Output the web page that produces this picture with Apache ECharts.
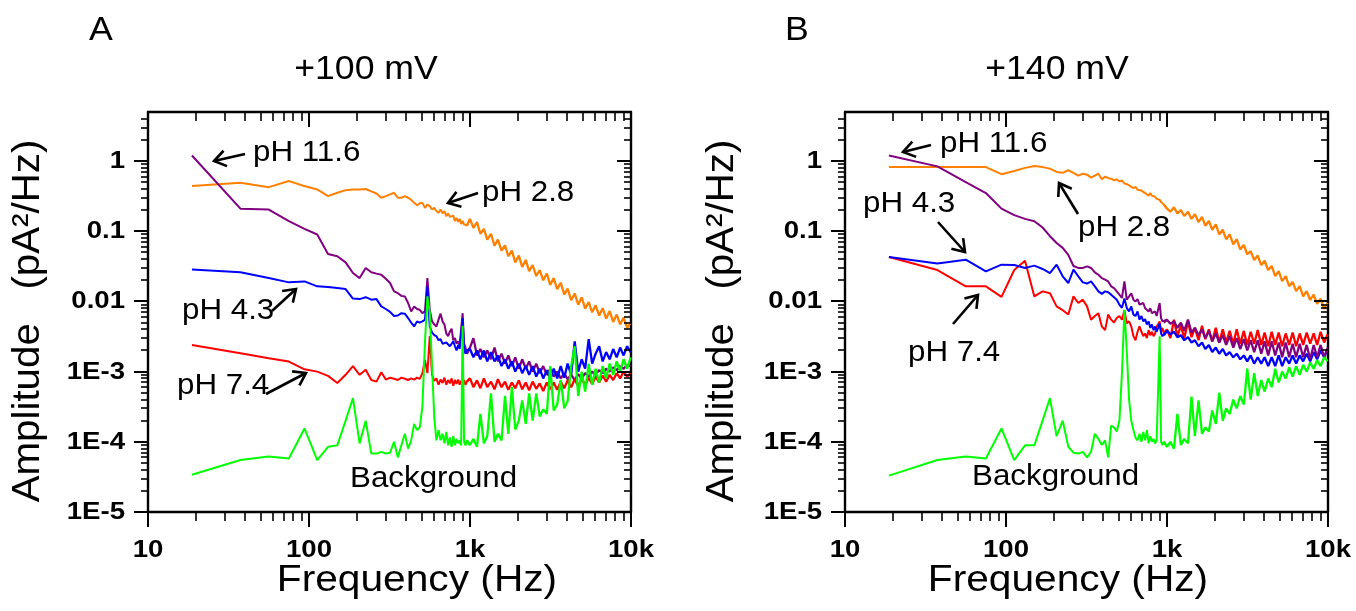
<!DOCTYPE html>
<html><head><meta charset="utf-8">
<script src="https://cdn.jsdelivr.net/npm/echarts@6/dist/echarts.min.js"></script>
<style>html,body{margin:0;padding:0;background:#fff}#c{width:1356px;height:611px}</style>
</head><body><div id="c"></div>
<script>
// ---------- data ----------
const freqHz = [
  18.75,37.5,56.25,75,93.75,112.5,131.25,150,168.75,187.5,206.25,225,243.75,262.5,281.25,300,318.75,337.5,356.25,375,
  393.75,412.5,431.25,450,468.75,487.5,506.25,525,543.75,562.5,581.25,600,618.75,637.5,656.25,675,693.75,712.5,731.25,750,
  768.75,787.5,806.25,825,843.75,862.5,881.25,900,918.75,937.5,956.25,
  1000,1050,1105,1160,1220,1280,1350,1420,1490,1570,1650,1730,1820,1910,2010,2110,2220,2330,2450,2580,
  2710,2850,3000,3150,3310,3480,3660,3850,4040,4250,4470,4700,4940,5190,5460,5740,6030,6340,6670,7010,
  7370,7750,8150,8560,9000,9460,9950];

const xTickValues = [10, 100, 1000, 10000];
const xTickLabels = ['10', '100', '1k', '10k'];
const yTickValues = [1e-5, 1e-4, 1e-3, 0.01, 0.1, 1];
const yTickLabels = ['1E-5', '1E-4', '1E-3', '0.01', '0.1', '1'];
const xMinorTicks = [20,30,40,50,60,70,80,90,200,300,400,500,600,700,800,900,2000,3000,4000,5000,6000,7000,8000,9000];
const yMinorTicks = [2e-5,3e-5,4e-5,5e-5,6e-5,7e-5,8e-5,9e-5,2e-4,3e-4,4e-4,5e-4,6e-4,7e-4,8e-4,9e-4,
  2e-3,3e-3,4e-3,5e-3,6e-3,7e-3,8e-3,9e-3,0.02,0.03,0.04,0.05,0.06,0.07,0.08,0.09,0.2,0.3,0.4,0.5,0.6,0.7,0.8,0.9,2,3,4];

const panelLetters = ['A', 'B'];
const panelTitles = ['+100 mV', '+140 mV'];
const xAxisTitle = 'Frequency (Hz)';
const yAxisTitle = 'Amplitude   (pA²/Hz)';
const seriesNames = ['pH 2.8', 'pH 11.6', 'pH 4.3', 'pH 7.4', 'Background'];

// Panel A (+100 mV)
const pH28_A = [0.44,0.49,0.425,0.52,0.44,0.394,0.316,0.353,0.385,0.394,0.394,0.40,0.37,0.345,0.30,0.316,0.335,0.353,0.30,0.30,
  0.316,0.30,0.28,0.254,0.235,0.25,0.254,0.215,0.24,0.228,0.204,0.215,0.194,0.183,0.204,0.18,0.194,0.164,0.18,0.16,
  0.15,0.167,0.14,0.155,0.137,0.15,0.127,0.14,0.125,0.131,0.12,
  0.15,0.112,0.135,0.092,0.108,0.076,0.092,0.062,0.076,0.053,0.063,0.044,0.053,0.036,0.045,0.031,0.039,0.027,0.033,0.023,
  0.028,0.020,0.025,0.0172,0.0215,0.0150,0.0185,0.0125,0.0152,0.0104,0.0130,0.0090,0.0114,0.0079,0.0098,0.0070,0.0088,0.0063,0.0080,0.0057,
  0.0073,0.0051,0.0065,0.0047,0.0059,0.0042,0.0050];
const pH116_A = [1.2,0.21,0.204,0.139,0.108,0.090,0.0475,0.044,0.036,0.0254,0.0215,0.030,0.026,0.0249,0.024,0.021,0.0183,0.0139,0.0131,0.012,
  0.0118,0.0095,0.0072,0.0085,0.0078,0.0076,0.0068,0.0072,0.0215,0.0076,0.0052,0.0047,0.0044,0.0055,0.0067,0.0052,0.0047,0.0035,0.0032,0.0037,
  0.0041,0.0028,0.0030,0.0025,0.0027,0.0024,0.0025,0.0068,0.0025,0.0022,0.0018,
  0.0022,0.0030,0.0017,0.0021,0.0016,0.0020,0.0015,0.0022,0.0014,0.0018,0.0013,0.0017,0.0012,0.0016,0.0011,0.0015,0.0011,0.0014,0.0010,0.0013,
  0.00095,0.0012,0.0009,0.0011,0.00085,0.0010,0.0008,0.00095,0.00078,0.0009,0.00076,0.00092,0.0008,0.00095,0.00085,0.001,0.0009,0.00105,0.00095,0.0011,
  0.001,0.00115,0.00105,0.0012,0.0011,0.00125,0.0012];
const pH43_A = [0.0284,0.026,0.0215,0.0187,0.0193,0.0164,0.016,0.0155,0.015,0.011,0.0108,0.0115,0.0106,0.0108,0.0085,0.0078,0.0071,0.0062,0.0063,0.0068,
  0.0067,0.0058,0.0050,0.0044,0.0052,0.0050,0.0052,0.0055,0.0164,0.0044,0.0036,0.0033,0.0032,0.0028,0.0029,0.0025,0.0024,0.0026,0.0025,0.0023,
  0.0022,0.0027,0.0023,0.0020,0.0024,0.0021,0.0022,0.0058,0.0021,0.0018,0.0020,
  0.0021,0.0016,0.0020,0.0015,0.0020,0.0014,0.0019,0.0014,0.0017,0.0012,0.0015,0.0011,0.0014,0.0010,0.0013,0.00095,0.0012,0.0009,0.0012,0.00085,
  0.0011,0.0008,0.00105,0.00078,0.0011,0.0008,0.0012,0.00082,0.0013,0.0009,0.0027,0.001,0.0015,0.0011,0.0029,0.0013,0.0018,0.0023,0.0014,0.0019,
  0.0015,0.0021,0.0016,0.0022,0.0017,0.0023,0.0019];
const pH74_A = [0.0024,0.00183,0.00155,0.00139,0.00108,0.0010,0.00087,0.00069,0.0009,0.0012,0.0009,0.00106,0.00076,0.00072,0.00098,0.00077,0.00082,0.00079,0.00076,0.00082,
  0.00079,0.00076,0.0008,0.00077,0.00082,0.00079,0.00095,0.00147,0.00095,0.0032,0.0009,0.00074,0.0008,0.00065,0.00077,0.00069,0.00082,0.00065,0.00076,0.00068,
  0.0008,0.00063,0.00076,0.00067,0.00077,0.00065,0.00074,0.00068,0.00076,0.00065,0.00072,
  0.0008,0.0006,0.00075,0.00058,0.0008,0.0006,0.00072,0.00056,0.00078,0.0006,0.00072,0.00055,0.0007,0.00058,0.00075,0.00056,0.0007,0.00054,0.00072,0.00057,
  0.00068,0.00053,0.0007,0.00056,0.0007,0.00055,0.00072,0.00058,0.00075,0.0006,0.00078,0.00062,0.0008,0.00064,0.00082,0.00066,0.00085,0.0007,0.00088,0.00072,
  0.0009,0.00076,0.00095,0.0008,0.001,0.00085,0.00095];
const bg_A = [3.4e-5,5.5e-5,6.2e-5,5.8e-5,1.55e-4,5.5e-5,8.5e-5,8.9e-5,2.0e-4,4.2e-4,9.5e-5,2.0e-4,6.8e-5,6.8e-5,7.2e-5,6.8e-5,7.0e-5,1.0e-4,6.0e-5,9.0e-5,
  1.3e-4,8.0e-5,1.05e-4,1.8e-4,1.47e-4,1.6e-4,3.2e-4,2.6e-3,1.18e-2,7.0e-3,1.2e-3,2.2e-4,1.05e-4,1.47e-4,1.05e-4,1.3e-4,9.5e-5,1.38e-4,8.9e-5,1.15e-4,
  8.5e-5,1.2e-4,8.9e-5,1.1e-4,9.5e-5,1.05e-4,8.9e-5,4.5e-3,1.0e-4,8.9e-5,1.05e-4,
  9.0e-5,1.1e-4,8.5e-5,2.5e-4,9.5e-5,1.2e-4,4.9e-4,1.0e-4,1.3e-4,1.05e-4,4.5e-4,1.3e-4,6.0e-4,1.5e-4,2.0e-4,3.9e-4,1.8e-4,4.9e-4,2.0e-4,4.9e-4,
  2.3e-4,2.9e-4,2.5e-4,1.2e-3,2.8e-4,3.4e-4,7.6e-4,3.0e-4,3.8e-4,1.2e-3,2.3e-3,4.5e-4,1.0e-3,5.2e-4,1.3e-3,6.5e-4,1.1e-3,7.0e-4,1.2e-3,8.0e-4,
  1.3e-3,9.0e-4,1.4e-3,1.0e-3,1.5e-3,1.1e-3,1.6e-3];

// Panel B (+140 mV)
const pH28_B = [0.82,0.82,0.82,0.82,0.65,0.72,0.80,0.85,0.82,0.78,0.70,0.68,0.74,0.68,0.62,0.66,0.64,0.58,0.62,0.66,
  0.55,0.60,0.57,0.56,0.53,0.55,0.51,0.53,0.48,0.47,0.45,0.43,0.41,0.43,0.39,0.41,0.38,0.36,0.35,0.34,
  0.32,0.35,0.32,0.31,0.31,0.29,0.28,0.28,0.26,0.25,0.24,
  0.21,0.19,0.22,0.18,0.20,0.165,0.19,0.15,0.175,0.135,0.16,0.12,0.14,0.105,0.125,0.09,0.105,0.077,0.09,0.065,
  0.077,0.055,0.064,0.047,0.052,0.039,0.045,0.033,0.038,0.028,0.032,0.023,0.027,0.0195,0.023,0.0165,0.019,0.014,0.0165,0.0118,
  0.014,0.0105,0.0125,0.0092,0.011,0.0078,0.0095];
const pH116_B = [1.2,0.84,0.50,0.35,0.21,0.17,0.15,0.139,0.113,0.085,0.068,0.058,0.046,0.032,0.030,0.030,0.0316,0.030,0.026,0.024,
  0.0215,0.0204,0.0193,0.0164,0.0155,0.0139,0.0125,0.0112,0.0193,0.0106,0.0118,0.0131,0.0106,0.010,0.0108,0.009,0.0085,0.0095,0.008,0.0076,
  0.0072,0.008,0.0068,0.0065,0.0072,0.0062,0.0065,0.0095,0.0058,0.0052,0.0050,
  0.0055,0.0048,0.0052,0.0042,0.0050,0.0038,0.0055,0.0036,0.0042,0.0033,0.0040,0.0030,0.0038,0.0027,0.0035,0.0026,0.0033,0.0024,0.0032,0.0022,
  0.0030,0.0021,0.0029,0.0020,0.0028,0.0019,0.0028,0.0018,0.0027,0.0017,0.0027,0.0017,0.0026,0.0016,0.0026,0.0016,0.0025,0.0016,0.0025,0.0016,
  0.0024,0.0015,0.0024,0.0016,0.0024,0.0016,0.0022];
const pH43_B = [0.043,0.0346,0.0394,0.0268,0.0334,0.033,0.030,0.0324,0.029,0.0254,0.0334,0.0228,0.0183,0.0284,0.0228,0.0187,0.018,0.0193,0.0164,0.0139,
  0.0128,0.0139,0.0135,0.0125,0.0115,0.0106,0.0090,0.0081,0.011,0.0081,0.0072,0.0085,0.0065,0.0062,0.0072,0.0055,0.0062,0.0052,0.0056,0.0047,
  0.0052,0.0042,0.0047,0.0039,0.0044,0.0037,0.0042,0.0049,0.0035,0.0032,0.0033,
  0.0038,0.0034,0.0037,0.0031,0.0033,0.0028,0.0031,0.0026,0.0028,0.0023,0.0026,0.0021,0.0024,0.0019,0.0022,0.0018,0.0021,0.0017,0.0019,0.0016,
  0.0018,0.0015,0.0017,0.0014,0.0017,0.0013,0.0016,0.0013,0.0016,0.0012,0.0016,0.0012,0.0017,0.0012,0.0016,0.0013,0.0017,0.0013,0.0017,0.0014,
  0.0018,0.0014,0.0019,0.0015,0.0020,0.0016,0.0021];
const pH74_B = [0.043,0.028,0.0164,0.0164,0.0116,0.028,0.038,0.0118,0.0139,0.0131,0.0085,0.0075,0.0065,0.0118,0.0095,0.0106,0.0085,0.0055,0.0062,0.0068,
  0.0044,0.0039,0.0065,0.0055,0.005,0.0058,0.0062,0.0055,0.0075,0.0049,0.0052,0.0044,0.0032,0.0028,0.0037,0.0044,0.0037,0.0032,0.0035,0.003,
  0.0039,0.0033,0.0037,0.0032,0.0035,0.0044,0.0047,0.0052,0.0037,0.0042,0.0035,
  0.0040,0.0030,0.0055,0.0032,0.0045,0.0030,0.0052,0.0031,0.0042,0.0028,0.0045,0.0029,0.0040,0.0027,0.0042,0.0026,0.0040,0.0026,0.0038,0.0025,
  0.0040,0.0025,0.0038,0.0024,0.0037,0.0025,0.0039,0.0024,0.0036,0.0023,0.0037,0.0024,0.0036,0.0023,0.0035,0.0024,0.0036,0.0023,0.0035,0.0024,
  0.0036,0.0025,0.0035,0.0024,0.0037,0.0026,0.0034];
const bg_B = [3.3e-5,5.5e-5,6.2e-5,5.8e-5,1.55e-4,5.5e-5,8.9e-5,8.9e-5,2.0e-4,4.2e-4,1.2e-4,2.0e-4,8.5e-5,7.0e-5,6.8e-5,7.2e-5,6.0e-5,7.2e-5,1.3e-4,1.1e-4,
  9.0e-5,1.05e-4,6.0e-5,1.7e-4,1.6e-4,1.4e-4,2.0e-4,9.5e-4,7.6e-3,2.0e-3,4.0e-4,2.0e-4,1.47e-4,1.15e-4,1.05e-4,1.3e-4,1.0e-4,1.38e-4,1.05e-4,1.47e-4,
  9.5e-5,1.2e-4,1.0e-4,1.1e-4,9.5e-5,1.05e-4,1.0e-4,3.2e-3,1.0e-4,9.0e-5,1.0e-4,
  8.5e-5,1.0e-4,8.0e-5,2.5e-4,9.0e-5,1.1e-4,9.5e-5,4.4e-4,1.2e-4,3.9e-4,1.3e-4,1.6e-4,1.4e-4,2.8e-4,1.8e-4,5.0e-4,2.0e-4,3.0e-4,2.5e-4,4.0e-4,
  3.0e-4,4.5e-4,3.4e-4,1.1e-3,4.0e-4,9.5e-4,4.5e-4,7.6e-4,5.2e-4,8.0e-4,6.0e-4,1.1e-3,7.0e-4,1.0e-3,8.0e-4,1.15e-3,8.5e-4,1.2e-3,9.0e-4,1.25e-3,
  1.0e-3,1.35e-3,1.1e-3,1.45e-3,1.2e-3,1.6e-3,1.4e-3];

// ---------- chart ----------
const COLORS = {o:'#FF8000', p:'#800080', b:'#0000FF', r:'#FF0000', g:'#00FF00'};
const FONT = '"Liberation Sans", Arial, sans-serif';
const SPLIT = 50; // index where the dense (noisy) high-frequency part begins

function pairs(vals) { return freqHz.map((f, i) => [f, vals[i]]); }

// tick items: [x, y, kind, labelIndex] kind 0=x minor,1=y minor,2=x major,3=y major
const tickData = []
  .concat(xMinorTicks.map(v => [v, 1, 0, -1]))
  .concat(yMinorTicks.map(v => [10, v, 1, -1]))
  .concat(xTickValues.map((v, i) => [v, 1, 2, i]))
  .concat(yTickValues.map((v, i) => [10, v, 3, i]));

const TICK_FONT = 'bold 23px ' + FONT;
const TICK_STRETCH = 1.2;

function renderTicks(params, api) {
  const cs = params.coordSys;
  const kind = api.value(2);
  const li = api.value(3);
  const major = kind >= 2;
  const st = {stroke: '#000', lineWidth: major ? 2 : 1.6};
  const children = [];
  if (kind === 0 || kind === 2) {
    const len = major ? 15 : 9;
    const px = Math.round(api.coord([api.value(0), 1])[0]);
    const yb = cs.y + cs.height, yt = cs.y;
    children.push({type: 'line', shape: {x1: px, y1: yb, x2: px, y2: yb + len}, style: st});
    children.push({type: 'line', shape: {x1: px, y1: yt, x2: px, y2: yt + len}, style: st});
    if (major) {
      children.push({type: 'text', x: px, y: yb + 39, scaleX: TICK_STRETCH,
        style: {text: xTickLabels[li], font: TICK_FONT, fill: '#000', align: 'center', verticalAlign: 'middle'}});
    }
  } else {
    const len = major ? 14 : 7;
    const py = Math.round(api.coord([10, api.value(1)])[1]);
    const xl = cs.x, xr = cs.x + cs.width;
    children.push({type: 'line', shape: {x1: xl - len, y1: py, x2: xl + 1, y2: py}, style: st});
    children.push({type: 'line', shape: {x1: xr - len, y1: py, x2: xr + 1, y2: py}, style: st});
    if (major) {
      children.push({type: 'text', x: xl - 23, y: py + 1, scaleX: TICK_STRETCH,
        style: {text: yTickLabels[li], font: TICK_FONT, fill: '#000', align: 'right', verticalAlign: 'middle'}});
    }
  }
  return {type: 'group', children: children};
}

const axisLineStyle = {show: true, onZero: false, lineStyle: {color: '#000', width: 2.4}};

const xAxes = [], yAxes = [], series = [];
[0, 1].forEach(g => {
  ['bottom', 'top'].forEach(pos => xAxes.push({type: 'log', logBase: 10, gridIndex: g, min: 10, max: 10000, position: pos,
    axisLine: axisLineStyle, axisTick: {show: false}, splitLine: {show: false}, axisLabel: {show: false}}));
  ['left', 'right'].forEach(pos => yAxes.push({type: 'log', logBase: 10, gridIndex: g, min: 1e-5, max: 5, position: pos,
    axisLine: axisLineStyle, axisTick: {show: false}, splitLine: {show: false}, axisLabel: {show: false}}));
});

// each curve: low-frequency part (width 2) and dense noisy high-frequency part (a bit heavier)
function addCurve(g, name, vals, color) {
  const all = pairs(vals);
  [[all.slice(0, SPLIT + 2), 2], [all.slice(SPLIT), 2.3]].forEach(([d, w]) => {
    series.push({type: 'line', name: name, xAxisIndex: g * 2, yAxisIndex: g * 2, data: d,
      symbol: 'none', showSymbol: false, lineStyle: {color: color, width: w}, itemStyle: {color: color},
      animation: false, silent: true, clip: true});
  });
}
// Panel A draw order
addCurve(0, seriesNames[0], pH28_A, COLORS.o);
addCurve(0, seriesNames[1], pH116_A, COLORS.p);
addCurve(0, seriesNames[3], pH74_A, COLORS.r);
addCurve(0, seriesNames[2], pH43_A, COLORS.b);
addCurve(0, seriesNames[4], bg_A, COLORS.g);
// Panel B draw order
addCurve(1, seriesNames[0], pH28_B, COLORS.o);
addCurve(1, seriesNames[3], pH74_B, COLORS.r);
addCurve(1, seriesNames[2], pH43_B, COLORS.b);
addCurve(1, seriesNames[1], pH116_B, COLORS.p);
addCurve(1, seriesNames[4], bg_B, COLORS.g);
[0, 1].forEach(g => {
  series.push({type: 'custom', xAxisIndex: g * 2, yAxisIndex: g * 2, data: tickData,
    dimensions: ['x', 'y', 'kind', 'label'], encode: {x: 0, y: 1}, renderItem: renderTicks,
    clip: false, silent: true, animation: false, z: 10});
});

// ---------- annotations ----------
function txt(x, y, s, size, align, sx, rot) {
  return {type: 'text', x: x, y: y, rotation: rot || 0, scaleX: sx || 1, silent: true, z: 20,
    style: {text: s, font: size + 'px ' + FONT, fill: '#000',
      textAlign: align || 'left', textVerticalAlign: 'middle', align: align || 'left', verticalAlign: 'middle'}};
}
function arrow(x1, y1, x2, y2) {
  const a = Math.atan2(y2 - y1, x2 - x1), L = 14, s = 0.6;
  const h1 = [x2 - L * Math.cos(a - s), y2 - L * Math.sin(a - s)];
  const h2 = [x2 - L * Math.cos(a + s), y2 - L * Math.sin(a + s)];
  const st = {stroke: '#000', lineWidth: 2.6, fill: null};
  return [
    {type: 'line', shape: {x1: x1, y1: y1, x2: x2, y2: y2}, style: st, silent: true, z: 20},
    {type: 'polyline', shape: {points: [h1, [x2, y2], h2]}, style: st, silent: true, z: 20}
  ];
}
const ANN = 29, ANN_SX = 1.08;
const graphics = [
  txt(101, 31, panelLetters[0], 33, 'center', 1.08),
  txt(797, 31, panelLetters[1], 33, 'center', 1.08),
  txt(366, 70, panelTitles[0], 33, 'center', 1.08),
  txt(1057, 70, panelTitles[1], 33, 'center', 1.08),
  txt(417, 581, xAxisTitle, 36, 'center', 1.13),
  txt(1068, 581, xAxisTitle, 36, 'center', 1.13),
  txt(29, 321, yAxisTitle, 38, 'center', 1.06, Math.PI / 2),
  txt(723, 321, yAxisTitle, 38, 'center', 1.06, Math.PI / 2),
  // panel A labels
  txt(253, 153, seriesNames[1], ANN, 'left', ANN_SX), txt(482, 193, seriesNames[0], ANN, 'left', ANN_SX),
  txt(182, 311, seriesNames[2], ANN, 'left', ANN_SX), txt(177, 386, seriesNames[3], ANN, 'left', ANN_SX),
  txt(350, 479, seriesNames[4], ANN, 'left', ANN_SX),
  // panel B labels
  txt(940, 144, seriesNames[1], ANN, 'left', ANN_SX), txt(863, 204, seriesNames[2], ANN, 'left', ANN_SX),
  txt(908, 353, seriesNames[3], ANN, 'left', ANN_SX), txt(1078, 228, seriesNames[0], ANN, 'left', ANN_SX),
  txt(972, 477, seriesNames[4], ANN, 'left', ANN_SX)
].concat(
  arrow(245, 154, 214, 161), arrow(478, 193, 448, 203),
  arrow(272, 311, 296, 289), arrow(266, 394, 306, 373),
  arrow(931, 145, 903, 152), arrow(938, 222, 965, 252),
  arrow(953, 324, 978, 295), arrow(1078, 214, 1059, 183)
);

const chart = echarts.init(document.getElementById('c'), null, {renderer: 'canvas', width: 1356, height: 611});
chart.setOption({
  backgroundColor: '#fff',
  animation: false,
  grid: [
    {left: 148, top: 112, width: 483, height: 400, containLabel: false},
    {left: 845, top: 112, width: 483, height: 400, containLabel: false}
  ],
  xAxis: xAxes,
  yAxis: yAxes,
  series: series,
  graphic: {elements: graphics}
});
</script>
</body></html>
